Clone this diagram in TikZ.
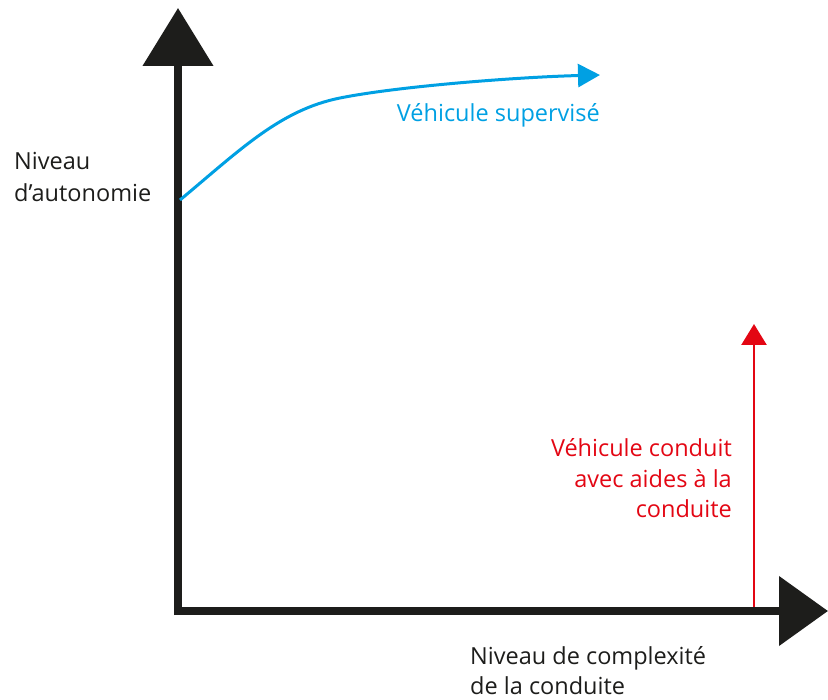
\documentclass[tikz,border=0pt]{standalone}
\usepackage{fontspec}
\setmainfont{Open Sans}
\usetikzlibrary{arrows.meta}
\definecolor{axisblack}{HTML}{1D1D1B}
\definecolor{supblue}{HTML}{00A0E3}
\definecolor{aidred}{HTML}{E30613}
\tikzset{
  axisline/.style={line width=8pt, draw=axisblack},
  lbl/.style={inner sep=0pt, font=\fontsize{23.5}{31}\selectfont},
}
\begin{document}
\begin{tikzpicture}[x=1pt,y=-1pt]
\useasboundingbox (0,0) rectangle (828,700);
% named points
\coordinate (ybot) at (178,615);
\coordinate (ytip) at (178,8);
\coordinate (xleft) at (174,611);
\coordinate (xtip) at (828,611);
\coordinate (bstart) at (180,200);
\coordinate (bmid) at (340,98);
\coordinate (bend) at (600,75);
\coordinate (rbot) at (754,607);
\coordinate (rtip) at (754,324);
% axes
\draw[axisline, -{Triangle[width=69pt,length=58pt]}] (ybot) -- (ytip);
\draw[axisline, -{Triangle[width=68pt,length=49pt]}] (xleft) -- (xtip);
% blue curve
\draw[supblue, line width=3pt, -{Triangle[width=23pt,length=22pt]}]
  (bstart) .. controls (240,150) and (280,110) .. (bmid)
  .. controls (400,86) and (520,77) .. (bend);
% red arrow
\draw[aidred, line width=2.5pt, -{Triangle[width=25pt,length=21pt]}] (rbot) -- (rtip);
% labels (base anchor = baseline of last line)
\node[lbl, text=axisblack, anchor=base west, align=left, font=\fontsize{23.5}{32}\selectfont] (ylab) at (14,202) {Niveau\\d’autonomie};
\node[lbl, text=axisblack, anchor=base west, align=left, font=\fontsize{23.5}{30}\selectfont] (xlab) at (470,694) {Niveau de complexité\\de la conduite};
\node[lbl, text=supblue, anchor=base east] (blab) at (600,122) {Véhicule supervisé};
\node[lbl, text=aidred, anchor=base east, align=right, font=\fontsize{23.5}{30.5}\selectfont] (rlab) at (732,518) {Véhicule conduit\\avec aides à la\\conduite};
\end{tikzpicture}
\end{document}
